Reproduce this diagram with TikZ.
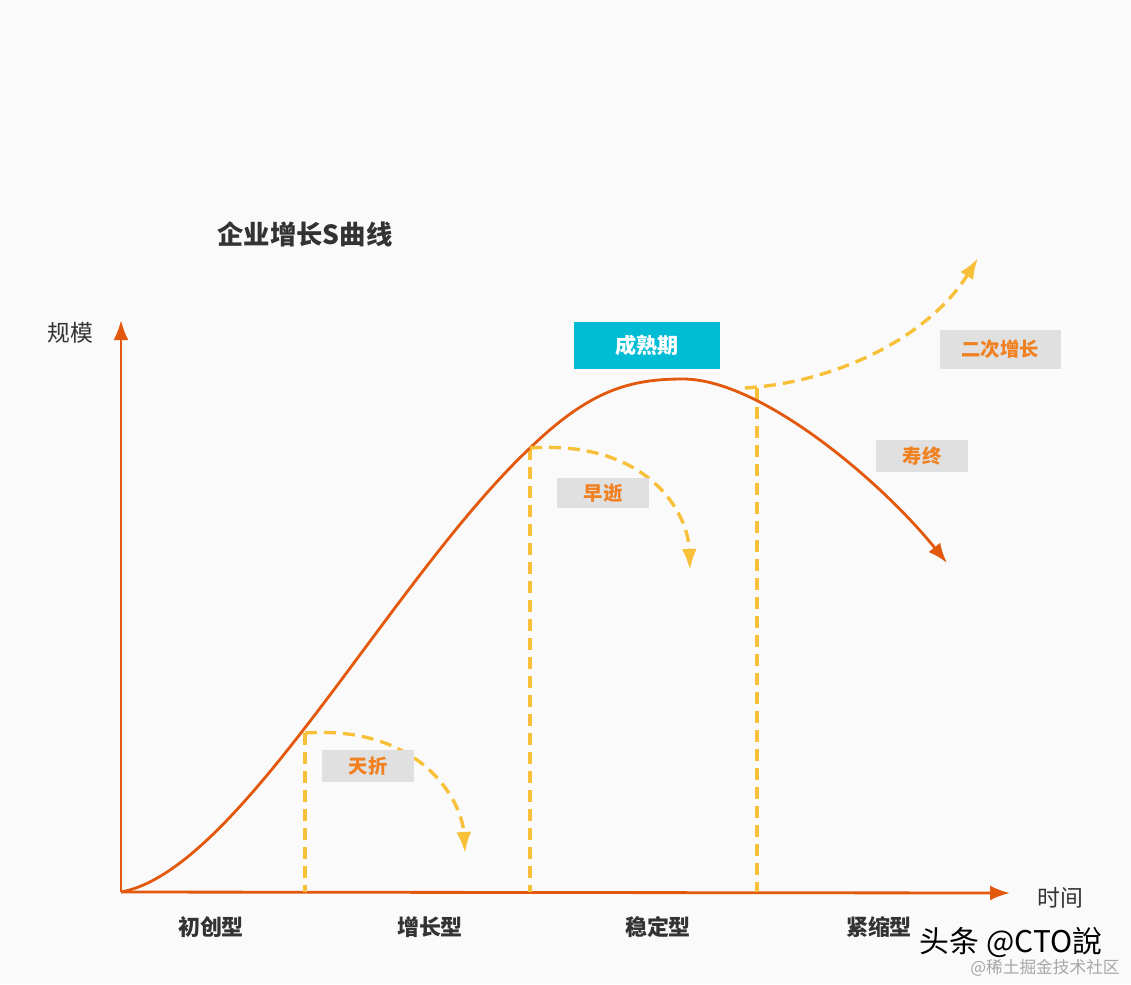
\documentclass[tikz,border=0pt]{standalone}
\usepackage{fontspec}
\setmainfont{Noto Sans CJK SC}
\newfontfamily\cjk{Noto Sans CJK SC}
\usetikzlibrary{arrows.meta}

\definecolor{bgcol}{RGB}{250,250,250}
\definecolor{curveorange}{RGB}{226,88,12}
\definecolor{dashyellow}{RGB}{248,192,56}
\definecolor{tagorange}{RGB}{240,128,32}
\definecolor{boxgray}{RGB}{224,224,224}
\definecolor{stagecyan}{RGB}{0,188,212}
\definecolor{textdark}{RGB}{51,51,51}

\tikzset{
  axisline/.style={curveorange, line width=1.6pt, -{Latex[length=0.4cm,width=0.3cm]}},
  guide/.style={dashyellow, line width=1.9pt, dash pattern=on 0.24cm off 0.14cm},
  fate/.style={guide, -{Latex[length=0.42cm,width=0.3cm]}},
  stagelabel/.style={text=textdark, font=\cjk\bfseries\fontsize{12.5}{14}\selectfont},
  tag/.style={fill=boxgray, text=tagorange, font=\cjk\bfseries\fontsize{11}{13}\selectfont,
    minimum width=1.84cm, minimum height=0.64cm, inner sep=0pt},
}

\begin{document}
\begin{tikzpicture}[x=0.02cm, y=-0.02cm]
  % canvas
  \fill[bgcol] (0,0) rectangle (1131,984);
  \useasboundingbox (0,0) rectangle (1131,984);

  % title
  \node[text=textdark, font=\cjk\bfseries\fontsize{15}{18}\selectfont] (title) at (305,234) {企业增长S曲线};

  % axes
  \coordinate (O) at (121,892);
  \coordinate (ytip) at (121,320);
  \coordinate (xtip) at (1010,893);
  \draw[axisline] (O) -- (ytip);
  \draw[axisline] (O) -- (xtip);
  \node[text=textdark, font=\cjk\fontsize{13}{15}\selectfont] (ylab) at (70,333) {规模};
  \node[text=textdark, font=\cjk\fontsize{13}{15}\selectfont] (xlab) at (1060,898) {时间};

  % points on the S curve
  \coordinate (early) at (305,733);
  \coordinate (mid) at (530,448);
  \coordinate (peak) at (683,379);
  \coordinate (late) at (757,388);
  \coordinate (endpt) at (947,563);

  % dashed splits down to the time axis
  \draw[guide] (early) -- (early |- O);
  \draw[guide] (mid) -- (mid |- O);
  \draw[guide] (late) -- (late |- O);

  % S curve
  \draw[curveorange, line width=1.6pt, -{Latex[length=0.4cm,width=0.3cm]}]
    (O) .. controls (240,870) and (390,580) .. (mid)
        .. controls (590,390) and (630,379) .. (peak)
        .. controls (760,379) and (880,480) .. (endpt);

  % branches off the curve
  \coordinate (fall1) at (465,853);
  \coordinate (fall2) at (690,570);
  \coordinate (rise) at (978,258);
  \coordinate (risestart) at (745,388);
  \draw[fate] (early) .. controls (420,725) and (462,800) .. (fall1);
  \draw[fate] (mid) .. controls (645,440) and (688,510) .. (fall2);
  \draw[fate] (risestart) .. controls (840,382) and (930,335) .. (rise);

  % tags
  \node[tag] (t1) at (368,766) {天折};
  \node[tag, minimum height=0.6cm] (t2) at (603,493) {早逝};
  \node[tag] (t3) at (922,456) {寿终};
  \node[tag, minimum width=2.42cm, minimum height=0.78cm] (t4) at (1000,349) {二次增长};
  \node[fill=stagecyan, text=white, font=\cjk\bfseries\fontsize{12}{14}\selectfont,
    minimum width=2.94cm, minimum height=0.94cm, inner sep=0pt] (mature) at (647,345) {成熟期};

  % stages
  \node[stagelabel] (s1) at (211,927) {初创型};
  \node[stagelabel] (s2) at (430,927) {增长型};
  \node[stagelabel] (s3) at (658,927) {稳定型};
  \node[stagelabel] (s4) at (879,927) {紧缩型};

  % watermark
  \node[text=black, font=\cjk\fontsize{17}{19}\selectfont] (wm1) at (1011,942) {头条 @CTO說};
  \node[text=gray!70, font=\cjk\fontsize{9.5}{11}\selectfont] (wm2) at (1045,968) {@稀土掘金技术社区};
\end{tikzpicture}
\end{document}
